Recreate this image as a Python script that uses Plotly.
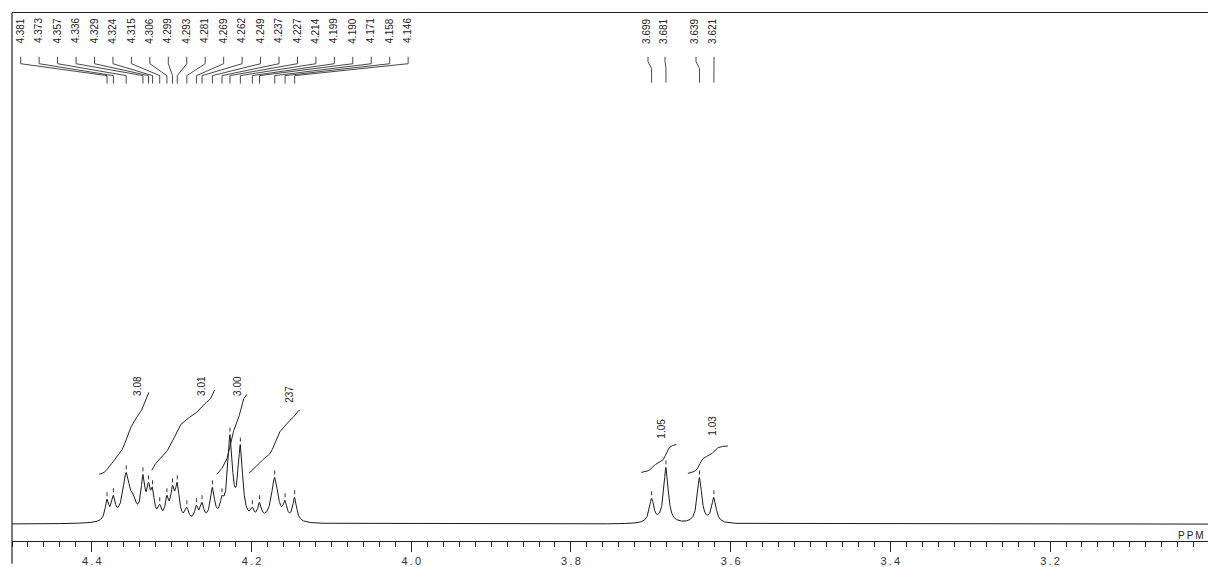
import numpy as np
import plotly.graph_objects as go

# ---------------- data ----------------
pick_ppm_left = [4.381, 4.373, 4.357, 4.336, 4.329, 4.324, 4.315, 4.306, 4.299, 4.293,
                 4.281, 4.269, 4.262, 4.249, 4.237, 4.227, 4.214, 4.199, 4.190, 4.171,
                 4.158, 4.146]
pick_height_left = [25, 29, 52, 50, 42, 37, 20, 29, 39, 42,
                    17, 19, 22, 37, 29, 90, 80, 17, 22, 47,
                    24, 27]
pick_width_left = [0.0028, 0.0028, 0.0055, 0.0030, 0.0026, 0.0026, 0.0026, 0.0026, 0.0028, 0.0030,
                   0.0026, 0.0026, 0.0026, 0.0032, 0.0028, 0.0036, 0.0034, 0.0026, 0.0028, 0.0050,
                   0.0028, 0.0030]
shoulder_ppm = [4.348]
shoulder_height = [30]
shoulder_width = [0.0040]

pick_ppm_right = [3.699, 3.681, 3.639, 3.621]
pick_height_right = [26, 57, 47, 27]
pick_width_right = [0.0034, 0.0034, 0.0034, 0.0034]

integral_values = [3.08, 3.01, 3.00, 2.37, 1.05, 1.03]
integral_labels = ["3.08", "3.01", "3.00", "237", "1.05", "1.03"]
integral_start_ppm = [4.391, 4.325, 4.2435, 4.2034, 3.712, 3.6536]
integral_end_ppm = [4.3286, 4.246, 4.2059, 4.1395, 3.668, 3.6035]

tick_vals = [4.4, 4.2, 4.0, 3.8, 3.6, 3.4, 3.2]
tick_text = ["4\u2009.\u20094", "4\u2009.\u20092", "4\u2009.\u20090", "3\u2009.\u20098",
             "3\u2009.\u20096", "3\u2009.\u20094", "3\u2009.\u20092"]

# ---------------- geometry helpers (layout only) ----------------
PX_PER_PPM = 798.5
LEFT_PX = 12
PPM_LEFT = 4.5
BASE_Y = 527


def px2ppm(px):
    return PPM_LEFT - (px - LEFT_PX) / PX_PER_PPM


def v(img_y):
    return BASE_Y - img_y


# ---------------- spectrum from peak list ----------------
pos = np.array(pick_ppm_left + shoulder_ppm + pick_ppm_right)
happ = np.array(pick_height_left + shoulder_height + pick_height_right, dtype=float)
wid = np.array(pick_width_left + shoulder_width + pick_width_right)

A = 1.0 / (1.0 + ((pos[:, None] - pos[None, :]) / wid[None, :]) ** 2)
htrue = np.clip(np.linalg.solve(A, happ), 0, None)

xg = np.arange(3.0, 4.5, 0.0001)
spec = np.zeros_like(xg)
for p, h, w in zip(pos, htrue, wid):
    spec += h / (1.0 + ((xg - p) / w) ** 2)

fig = go.Figure()
fig.add_trace(go.Scatter(x=xg, y=spec, mode="lines",
                         line=dict(color="#1a1a1a", width=1), hoverinfo="skip"))

# ---------------- integral curves ----------------
SCALE = 26.8
offsets = [50, 54, 50, 51, 52, 51]
ix, iy = [], []
for val, a, b, off in zip(integral_values, integral_start_ppm, integral_end_ppm, offsets):
    m = (xg <= a) & (xg >= b)
    xs = xg[m][::-1]
    ys = spec[m][::-1]
    c = np.cumsum(ys)
    c = c / c[-1]
    ix += list(xs) + [None]
    iy += list(off + val * SCALE * c) + [None]
fig.add_trace(go.Scatter(x=ix, y=iy, mode="lines",
                         line=dict(color="#222222", width=1), hoverinfo="skip"))

# ---------------- peak-top markers ----------------
mx, my = [], []
for p in pick_ppm_left + pick_ppm_right:
    top = float(np.interp(p, xg, spec))
    mx += [p, p, None]
    my += [top + 3, top + 7, None]
fig.add_trace(go.Scatter(x=mx, y=my, mode="lines",
                         line=dict(color="#333333", width=1), hoverinfo="skip"))

# ---------------- pick label lines ----------------
left_label_px = [20.7 + i * 18.45 for i in range(len(pick_ppm_left))]
right_label_px = [648, 665, 696, 714]
lx, ly = [], []
for lp, p in zip(left_label_px, pick_ppm_left):
    lx += [px2ppm(lp), px2ppm(lp), p, p, None]
    ly += [v(57), v(64), v(76), v(84), None]
for lp, p in zip(right_label_px, pick_ppm_right):
    lx += [px2ppm(lp), px2ppm(lp), p, p, None]
    ly += [v(57), v(62), v(69), v(83), None]
fig.add_trace(go.Scatter(x=lx, y=ly, mode="lines",
                         line=dict(color="#333333", width=0.9), hoverinfo="skip"))

annotations = []
for lp, p in zip(left_label_px, pick_ppm_left):
    annotations.append(dict(x=px2ppm(lp), y=v(31), text=f"{p:.3f}", textangle=-90,
                            showarrow=False, font=dict(size=10, color="#222222",
                                                       family="Liberation Sans")))
for lp, p in zip(right_label_px, pick_ppm_right):
    annotations.append(dict(x=px2ppm(lp - 1), y=v(32), text=f"{p:.3f}", textangle=-90,
                            showarrow=False, font=dict(size=10, color="#222222",
                                                       family="Liberation Sans")))

int_label_px = [138, 202, 238, 290, 662, 713]
int_label_y = [388, 388, 388, 397, 431, 428]
for t, lp, ly_ in zip(integral_labels, int_label_px, int_label_y):
    annotations.append(dict(x=px2ppm(lp), y=v(ly_), text=t, textangle=-90,
                            showarrow=False, font=dict(size=10, color="#222222",
                                                       family="Liberation Sans")))

annotations.append(dict(x=px2ppm(1191), y=v(538), text="P\u2009P\u2009M", showarrow=False,
                        font=dict(size=10, color="#222222", family="Liberation Sans")))

fig.update_layout(
    width=1208, height=567,
    margin=dict(l=12, r=0, t=13, b=23),
    paper_bgcolor="white", plot_bgcolor="white",
    showlegend=False,
    annotations=annotations,
    shapes=[dict(type="line", xref="paper", yref="paper", x0=0, x1=0,
                 y0=-23 / 531, y1=1, line=dict(color="#222222", width=1.2))],
    xaxis=dict(range=[PPM_LEFT, px2ppm(1208)], autorange=False,
               showline=True, linecolor="#222222", linewidth=1, mirror=True,
               ticks="outside", ticklen=10, tickcolor="#222222",
               tickvals=tick_vals, ticktext=tick_text,
               tickfont=dict(size=11, color="#333333", family="Liberation Sans"),
               minor=dict(ticks="outside", ticklen=5, dtick=0.02, tick0=0,
                          tickcolor="#222222", showgrid=False),
               showgrid=False, zeroline=False),
    yaxis=dict(range=[-17, 514], visible=False, showgrid=False, zeroline=False),
)

fig.write_html("out.html")
